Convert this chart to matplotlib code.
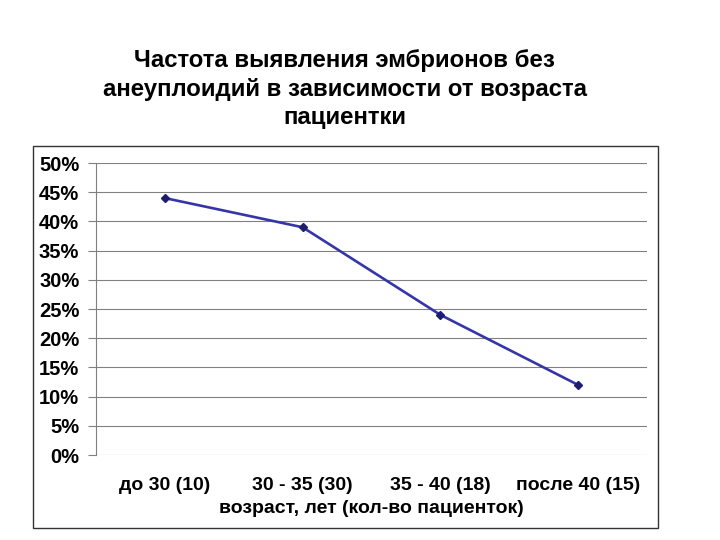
import matplotlib.pyplot as plt
from matplotlib.patches import Rectangle
from matplotlib.ticker import PercentFormatter

plt.rcParams['font.family'] = ['Liberation Sans', 'DejaVu Sans']
plt.rcParams['font.weight'] = 'bold'
plt.rcParams['axes.labelweight'] = 'bold'

# данные
categories = ['до 30 (10)', '30 - 35 (30)', '35 - 40 (18)', 'после 40 (15)']
values = [44, 39, 24, 12]  # %

title = 'Частота выявления эмбрионов без\nанеуплоидий в зависимости от возраста\nпациентки'
xlabel = 'возраст, лет (кол-во пациенток)'

fig = plt.figure(figsize=(7.2, 5.4), dpi=100)

# рамка диаграммы
fig.patches.append(Rectangle((0.0458, 0.0222), 0.868, 0.7074, transform=fig.transFigure,
                             fill=False, edgecolor='#333333', linewidth=1.0))

ax = fig.add_axes([0.1333, 0.1574, 0.7653, 0.5407])
x = range(len(categories))
ax.plot(x, values, color='#3535A8', linewidth=1.9, marker='D', markersize=4,
        markerfacecolor='#1C1C70', markeredgecolor='#1C1C70', zorder=3)

ax.set_xlim(-0.5, len(categories) - 0.5)
ax.set_ylim(0, 50)
ax.set_yticks(range(0, 51, 5))
ax.yaxis.set_major_formatter(PercentFormatter(decimals=0))
ax.grid(axis='y', color='#808080', linewidth=0.8)
ax.set_axisbelow(True)

ax.set_xticks(list(x))
ax.set_xticklabels(categories, fontsize=14)
ax.tick_params(axis='x', length=0, pad=16)
ax.tick_params(axis='y', length=6, color='#808080', labelsize=14.5, pad=6)
ax.set_xlabel(xlabel, fontsize=14, labelpad=4)

for s in ['top', 'right', 'bottom']:
    ax.spines[s].set_visible(False)
ax.spines['left'].set_color('#808080')

fig.text(0.479, 0.835, title, ha='center', va='center', fontsize=17.3,
         fontweight='bold', linespacing=1.31)

fig.savefig('out.png', dpi=100)
